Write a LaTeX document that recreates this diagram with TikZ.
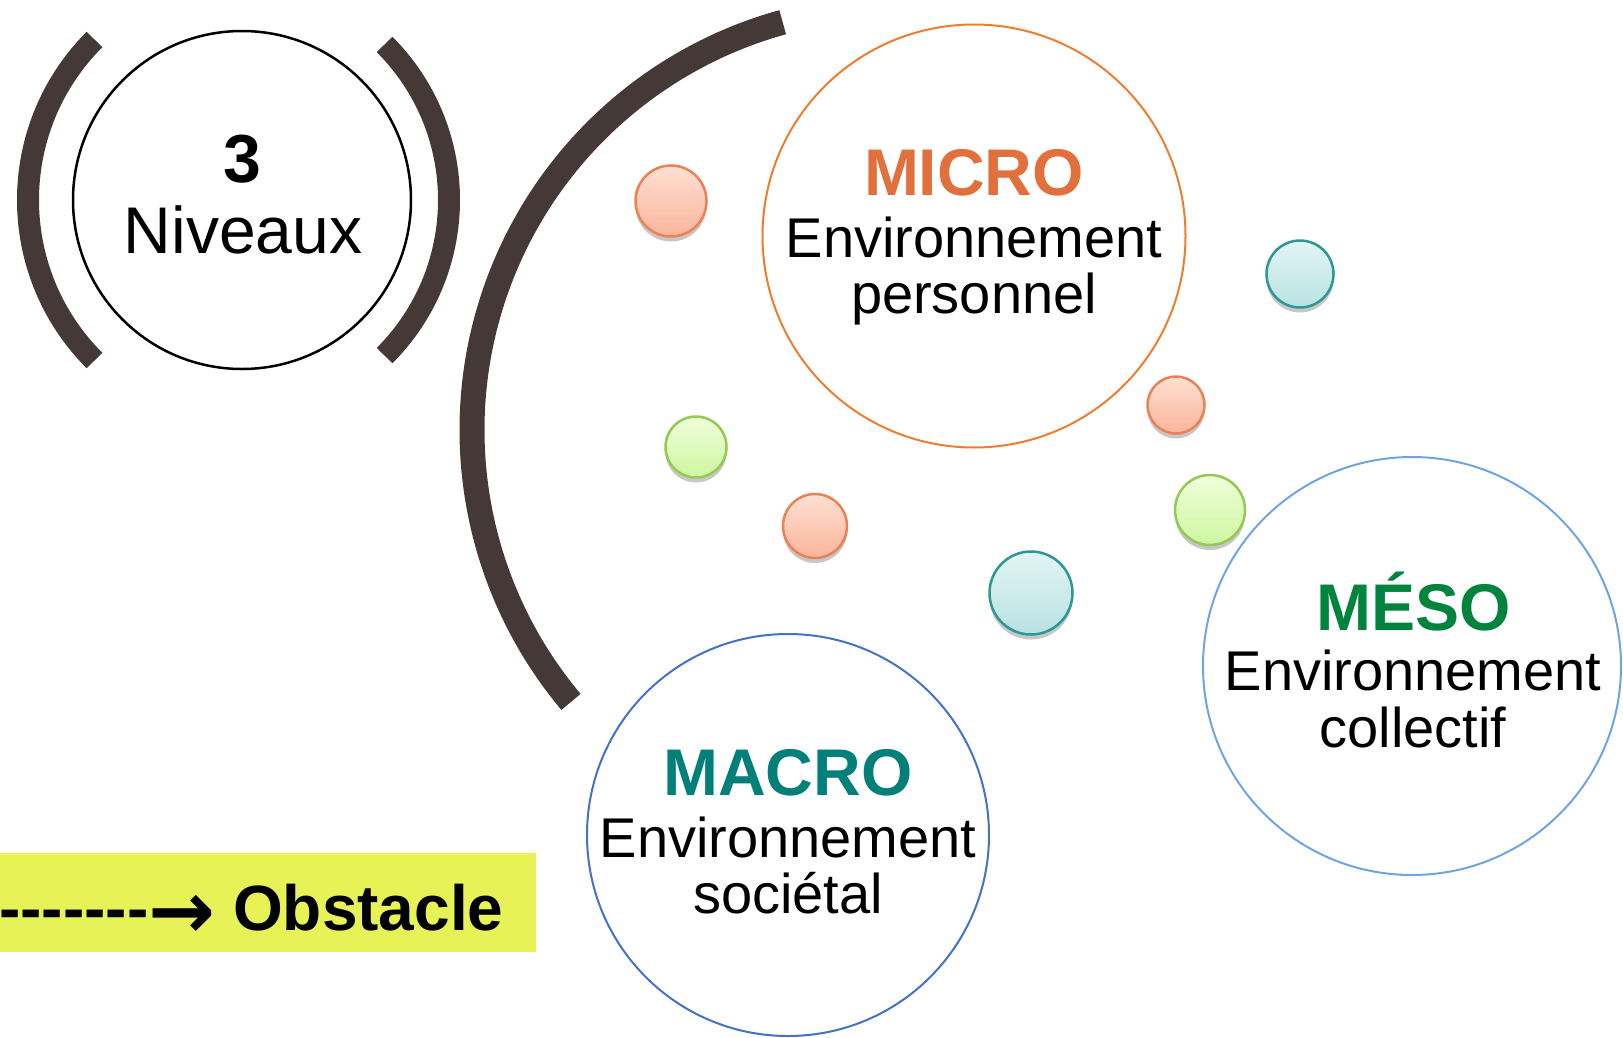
\documentclass[tikz,border=0pt]{standalone}
\usepackage{fontspec}
\setmainfont{Liberation Sans}
\newfontfamily\arrowfont{DejaVu Sans}
\usetikzlibrary{shadows}
\definecolor{bracketBrown}{RGB}{68,57,55}
\definecolor{microOrange}{RGB}{237,125,49}
\definecolor{microText}{RGB}{226,112,60}
\definecolor{mesoBlue}{RGB}{110,165,225}
\definecolor{mesoText}{RGB}{0,132,61}
\definecolor{macroBlue}{RGB}{68,114,196}
\definecolor{macroText}{RGB}{0,128,120}
\definecolor{obstacleYellow}{RGB}{230,242,85}
\definecolor{ballOrange}{RGB}{235,130,85}
\definecolor{ballTeal}{RGB}{45,150,150}
\definecolor{ballGreen}{RGB}{150,200,85}
\newcommand\dashrun{-\kern0pt-\kern0pt-\kern0pt-\kern0pt-\kern0pt-\kern0pt-}
\newcommand\bigarrow{{\arrowfont\fontsize{80}{80}\selectfont\raisebox{-8pt}{→}}}
\tikzset{%
  % thick curved strokes
       bracket/.style = {line width=22pt, draw=bracketBrown},
  % level circles and their texts
         level/.style = {circle, draw, line width=2pt, inner sep=0pt},
         title/.style = {anchor=base, inner sep=0pt,
                         font=\fontsize{66}{66}\selectfont\bfseries},
          desc/.style = {anchor=base, inner sep=0pt,
                         font=\fontsize{56}{56}\selectfont},
  % small balls
          ball/.style = {circle, inner sep=0pt, line width=2.5pt,
                         drop shadow={shadow xshift=0pt, shadow yshift=-5pt,
                                      opacity=0.22, fill=black}},
    orangeBall/.style = {ball, draw=ballOrange, top color={rgb,255:red,255;green,224;blue,210},
                         bottom color={rgb,255:red,250;green,180;blue,155}},
      tealBall/.style = {ball, draw=ballTeal, top color={rgb,255:red,226;green,244;blue,244},
                         bottom color={rgb,255:red,185;green,226;blue,226}},
     greenBall/.style = {ball, draw=ballGreen, top color={rgb,255:red,240;green,255;blue,218},
                         bottom color={rgb,255:red,205;green,246;blue,160}},
}
\begin{document}
\begin{tikzpicture}[x=1pt, y=-1pt]
  \useasboundingbox (0,0) rectangle (1623,1037);
  % brackets round the 3 Niveaux circle
  \draw[bracket] ([shift={(255,200)}]135:227) arc[start angle=135, end angle=225, radius=227];
  \draw[bracket] ([shift={(229,200)}]-45:220) arc[start angle=-45, end angle=45, radius=220];
  % big arc
  \draw[bracket, line width=25pt] ([shift={(895,430)}]140:423) arc[start angle=140, end angle=254.6, radius=423];
  % level circles
  \node (niveaux) [level, draw=black, line width=2.5pt, minimum size=338pt] at (242,200) {};
  \node (micro) [level, draw=microOrange, minimum size=423pt] at (974,236) {};
  \node (meso)  [level, draw=mesoBlue, minimum size=418pt] at (1412,666) {};
  \node (macro) [level, draw=macroBlue, minimum size=402pt] at (788,835) {};
  % texts of the circles
  \node (niveauxNum) [title, font=\fontsize{68}{68}\selectfont\bfseries] at ([yshift=18pt]niveaux.center) {3};
  \node (niveauxTxt) [desc, font=\fontsize{66}{66}\selectfont] at ([xshift=1pt, yshift=-53pt]niveaux.center) {Niveaux};
  \node (microTitle) [title, text=microText] at ([yshift=41pt]micro.center) {MICRO};
  \node (microLine1) [desc] at ([yshift=-21pt]micro.center) {Environnement};
  \node (microLine2) [desc] at ([yshift=-77pt]micro.center) {personnel};
  \node (mesoTitle) [title, text=mesoText] at ([xshift=2pt, yshift=36pt]meso.center) {MÉSO};
  \node (mesoLine1) [desc] at ([xshift=1pt, yshift=-24pt]meso.center) {Environnement};
  \node (mesoLine2) [desc] at ([xshift=1pt, yshift=-81pt]meso.center) {collectif};
  \node (macroTitle) [title, text=macroText] at ([yshift=40pt]macro.center) {MACRO};
  \node (macroLine1) [desc] at ([yshift=-22pt]macro.center) {Environnement};
  \node (macroLine2) [desc] at ([yshift=-78pt]macro.center) {sociétal};
  % small balls
  \node (ballA) [orangeBall, minimum size=71pt] at (671,201) {};
  \node (ballB) [tealBall, minimum size=67pt] at (1300,274) {};
  \node (ballC) [orangeBall, minimum size=57pt] at (1176,405) {};
  \node (ballD) [greenBall, minimum size=70pt] at (1210,510) {};
  \node (ballE) [greenBall, minimum size=61pt] at (696,447) {};
  \node (ballF) [orangeBall, minimum size=64pt] at (815,526) {};
  \node (ballG) [tealBall, minimum size=83pt] at (1031,593) {};
  % obstacle legend
  \node (obstacleBox) [fill=obstacleYellow, anchor=north west, inner sep=0pt,
        minimum width=536pt, minimum height=99pt] at (0,853) {};
  \node (obstacle) [anchor=base west, inner sep=0pt,
        font=\fontsize{64}{64}\selectfont\bfseries] at (-1,930) {\dashrun\bigarrow\ Obstacle};
\end{tikzpicture}
\end{document}
